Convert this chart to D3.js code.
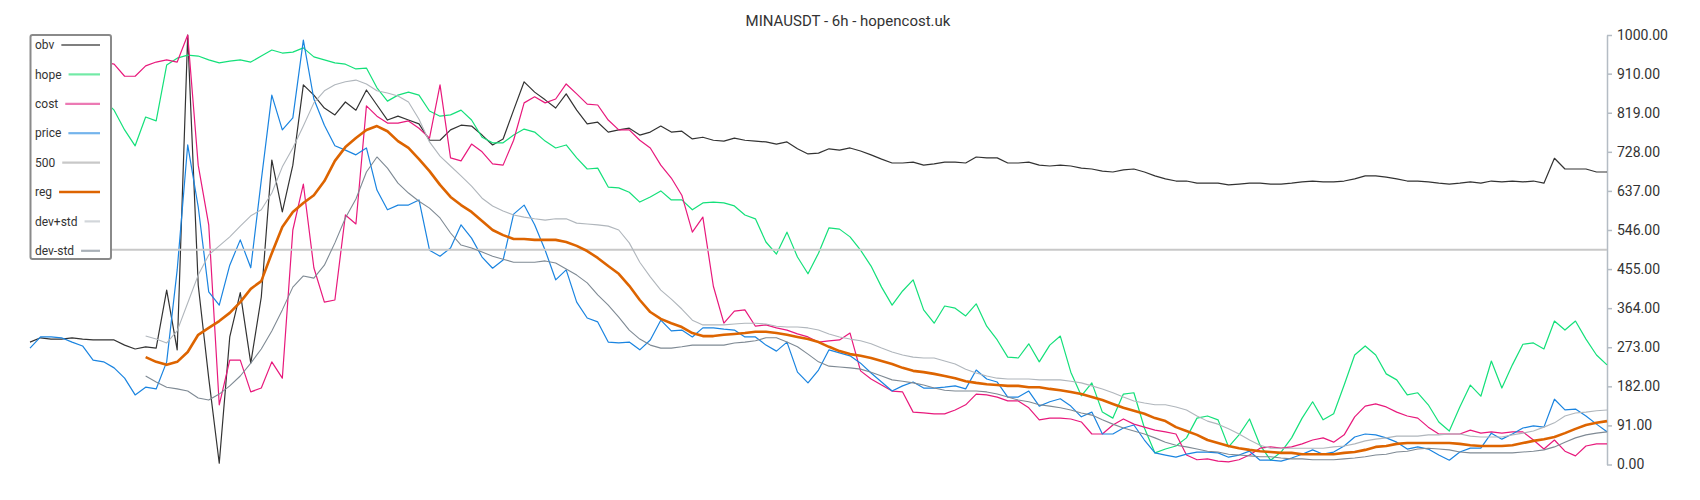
<!DOCTYPE html>
<meta charset="utf-8">
<head>
<style>
body { margin: 0; background: #fff; }
#chart text { font-family: Roboto, "Noto Sans", sans-serif; }
</style>
</head>
<script src="https://d3js.org/d3.v7.min.js"></script>
<div id="chart"></div>
<script>

// ---------------------------//
//       DATA                 //
// ---------------------------//

var title = "MINAUSDT - 6h - hopencost.uk";
var yTicks = [0, 91, 182, 273, 364, 455, 546, 637, 728, 819, 910, 1000];

var obv = [285,295,292,292,295,292,290,290,290,278,
 269,274,271,406,267,1000,418,201,3,297,
 400,236,390,709,588,697,884,860,830,814,
 844,825,872,837,802,811,802,793,755,755,
 779,790,788,767,744,758,825,891,867,849,
 830,863,825,793,797,774,779,783,767,774,
 788,774,776,758,762,755,753,760,755,753,
 751,746,751,735,723,725,735,732,737,730,
 721,711,702,702,704,697,700,704,704,702,
 716,714,714,702,702,704,697,695,697,695,
 690,688,683,681,686,688,681,672,665,660,
 660,655,655,655,651,653,655,655,653,653,
 655,658,660,658,658,660,665,672,672,669,
 665,660,660,658,655,653,655,658,655,660,
 658,660,658,660,655,713,688,688,688,681,
 681];

var hope = [860,853,867,858,849,863,853,849,825,779,
 742,809,800,930,946,953,951,942,935,939,
 942,937,951,965,958,960,970,949,942,935,
 932,921,923,877,846,860,867,860,823,811,
 814,825,802,762,749,749,767,781,774,753,
 737,744,714,688,690,646,644,634,611,623,
 637,616,616,593,609,611,609,602,581,572,
 518,490,541,483,444,492,551,548,530,499,
 462,413,371,404,430,360,329,369,364,346,
 374,322,290,250,248,281,239,278,299,215,
 160,190,122,108,164,167,85,27,36,43,
 62,108,113,104,41,69,106,45,10,29,
 62,108,146,104,118,185,255,276,255,211,
 197,162,167,139,99,78,134,185,159,241,
 178,232,280,283,269,334,313,334,292,255,
 232];

var cost = [942,937,946,942,932,942,937,937,932,904,
 904,928,937,942,937,1000,697,558,139,243,
 243,169,178,239,201,546,653,458,378,383,
 581,560,835,811,795,795,800,783,760,884,
 714,707,746,728,700,697,755,842,856,842,
 851,886,863,839,837,802,779,779,755,737,
 697,667,627,541,576,415,329,357,360,322,
 325,318,313,304,297,285,288,290,306,218,
 199,185,171,169,122,120,118,118,127,139,
 164,162,157,148,148,132,104,108,108,106,
 99,71,71,92,106,94,87,80,76,71,
 22,11,13,8,6,11,22,38,41,38,
 41,48,57,62,52,69,111,136,141,134,
 122,113,108,87,71,71,71,80,73,76,
 73,76,76,57,36,57,31,20,43,48,
 48];

var price = [271,297,297,295,285,276,243,239,225,201,
 162,180,176,239,453,744,600,402,371,464,
 523,458,662,860,779,807,988,851,790,742,
 732,721,737,639,593,604,604,616,499,485,
 504,558,527,483,457,476,583,604,558,499,
 430,453,378,341,332,285,283,285,267,290,
 336,311,313,297,318,318,315,313,297,297,
 278,264,285,215,190,220,267,260,253,236,
 213,192,171,183,192,178,178,180,183,176,
 220,199,192,157,157,171,136,146,153,136,
 111,122,71,71,85,92,57,27,22,17,
 24,29,29,27,17,22,31,10,10,8,
 15,24,34,24,29,43,64,71,69,62,
 52,36,41,36,22,10,29,38,38,73,
 59,71,85,90,87,152,127,129,113,94,
 76];

var level500 = 500;

var reg = [null,null,null,null,null,null,null,null,null,null,null,
 250,239,232,239,262,302,318,334,353,
 378,409,427,492,553,588,609,627,660,707,
 739,760,779,788,776,753,737,711,683,651,
 623,604,588,567,546,534,525,525,523,523,
 523,518,509,497,481,462,444,416,383,355,
 339,329,320,306,299,299,302,304,306,309,
 309,306,302,297,292,285,274,264,257,253,
 248,241,234,225,218,215,211,206,201,194,
 190,187,185,183,183,180,180,176,173,169,
 164,157,150,141,132,125,118,108,101,87,
 78,69,57,50,43,38,34,31,29,27,
 27,24,24,24,24,27,29,34,41,43,
 48,50,50,50,50,50,48,45,43,43,
 43,45,50,55,59,64,73,83,92,97,
 101];

var devPlus = [null,null,null,null,null,null,null,null,null,null,null,
 299,292,283,311,376,441,488,509,530,
 555,579,593,632,693,737,788,842,870,884,
 891,895,886,870,865,858,844,804,751,718,
 695,672,648,620,602,590,581,576,572,569,
 572,572,562,560,558,555,546,516,471,437,
 406,385,362,336,325,325,325,327,329,329,
 327,322,320,320,318,313,304,297,292,288,
 281,271,262,255,250,248,248,241,234,222,
 213,206,201,199,199,199,197,197,197,194,
 190,183,176,167,157,148,143,139,139,134,
 127,113,101,94,83,71,57,45,38,38,
 38,38,38,38,41,43,48,55,59,62,
 66,66,66,69,69,71,71,66,64,64,
 64,69,73,78,87,97,113,120,122,125,
 127];

var devMinus = [null,null,null,null,null,null,null,null,null,null,null,
 206,192,180,176,171,155,150,164,183,
 206,236,269,311,360,413,439,434,464,516,
 574,618,681,716,690,655,632,613,597,574,
 539,511,504,495,485,478,471,471,471,474,
 469,455,441,423,395,371,343,313,292,278,
 271,271,274,278,278,278,278,283,285,288,
 295,295,285,274,257,239,229,227,225,222,
 215,206,197,194,190,185,178,173,171,171,
 171,169,164,157,150,146,139,136,132,127,
 120,115,104,94,85,78,71,62,52,45,
 41,36,31,29,24,22,20,18,18,15,
 13,13,11,11,11,13,15,18,22,24,
 29,31,36,38,36,34,29,27,27,27,
 27,27,29,31,34,41,52,62,69,73,
 76];

// set the dimensions of the graph
var W = 1700, H = 500;
var plot = {left: 30, right: 1607, top: 35, bottom: 464.5};

var svg = d3.select("#chart")
  .append("svg")
    .attr("width", W)
    .attr("height", H);

svg.append("rect").attr("width", W).attr("height", H).attr("fill", "#fff");

// ---------------------------//
//       AXIS  AND SCALE      //
// ---------------------------//

var x = d3.scaleLinear()
  .domain([0, obv.length - 1])
  .range([plot.left, plot.right]);

var y = d3.scaleLinear()
  .domain([0, 1000])
  .range([plot.bottom, plot.top]);

var yAxis = svg.append("g")
  .attr("transform", "translate(" + plot.right + ",0)")
  .call(d3.axisRight(y).tickValues(yTicks).tickFormat(d3.format(".2f"))
    .tickSize(5).tickSizeOuter(0).tickPadding(5));

yAxis.select(".domain").attr("stroke", "#b4bcc4").attr("stroke-width", 1.5);
yAxis.selectAll(".tick line").attr("stroke", "#b4bcc4").attr("stroke-width", 1.5);
yAxis.selectAll(".tick text")
  .attr("fill", "#333")
  .style("font-size", "14px");

// title
svg.append("text")
  .attr("x", 848)
  .attr("y", 26)
  .attr("text-anchor", "middle")
  .style("font-size", "15px")
  .attr("fill", "#333")
  .text(title);

// ---------------------------//
//       LINES                //
// ---------------------------//

var series = [
  {name: "obv",     values: obv,      color: "#333333", legend: "#7f7f7f", width: 1.2},
  {name: "hope",    values: hope,     color: "#14e07a", legend: "#72eaa6", width: 1.2},
  {name: "cost",    values: cost,     color: "#e8197c", legend: "#ec7ab4", width: 1.2},
  {name: "price",   values: price,    color: "#1a84e0", legend: "#74b4ec", width: 1.2},
  {name: "500",     values: obv.map(function(){ return level500; }), color: "#c8c8c8", legend: "#c8c8c8", width: 2},
  {name: "reg",     values: reg,      color: "#dd6400", legend: "#dd6400", width: 2.6},
  {name: "dev+std", values: devPlus,  color: "#b0b6bc", legend: "#d2d6da", width: 1.1},
  {name: "dev-std", values: devMinus, color: "#7f8a94", legend: "#a9b0b7", width: 1.1}
];

var line = d3.line()
  .defined(function(d) { return d != null; })
  .x(function(d, i) { return x(i); })
  .y(function(d) { return y(d); });

svg.append("g")
  .selectAll("path")
  .data(series)
  .enter()
  .append("path")
    .attr("d", function(s) { return line(s.values); })
    .attr("fill", "none")
    .attr("stroke", function(s) { return s.color; })
    .attr("stroke-width", function(s) { return s.width; })
    .attr("stroke-linejoin", "round");

// ---------------------------//
//       LEGEND               //
// ---------------------------//

var legend = svg.append("g");

legend.append("rect")
  .attr("x", 30.5)
  .attr("y", 35)
  .attr("width", 80.5)
  .attr("height", 224)
  .attr("rx", 2)
  .attr("fill", "#fff")
  .attr("stroke", "#8a8a8a")
  .attr("stroke-width", 2);

var entries = legend.selectAll("g.entry")
  .data(series)
  .enter()
  .append("g")
    .attr("class", "entry")
    .attr("transform", function(d, i) { return "translate(0," + (45 + i * 29.4) + ")"; });

entries.append("text")
  .attr("x", 35)
  .attr("dy", "0.35em")
  .style("font-size", "12px")
  .attr("fill", "#333")
  .text(function(d) { return d.name; });

entries.each(function(d) {
  var g = d3.select(this);
  var tw = g.select("text").node().getComputedTextLength();
  g.append("line")
    .attr("x1", 35 + tw + 7)
    .attr("x2", 100)
    .attr("stroke", d.legend)
    .attr("stroke-width", d.name == "reg" ? 2.6 : 2.2);
});

</script>
